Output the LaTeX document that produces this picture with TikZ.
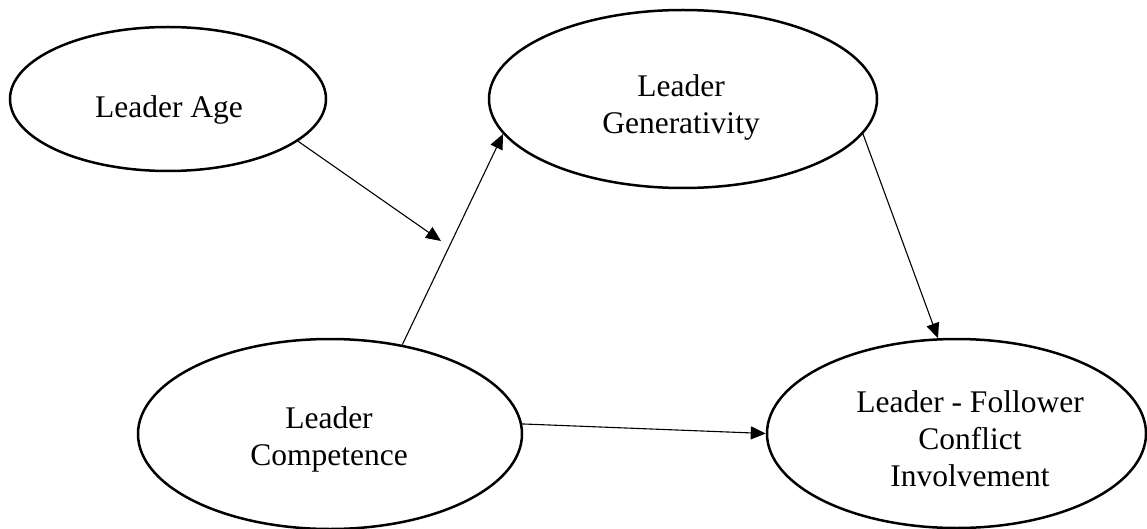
\documentclass[tikz,border=0pt]{standalone}
\usepackage{fontspec}
\setmainfont{Liberation Serif}
\usetikzlibrary{shapes.geometric,arrows.meta}
\begin{document}
\begin{tikzpicture}[x=1pt,y=-1pt,
  ell/.style={draw=black,line width=2.5pt,ellipse,inner sep=0pt},
  txt/.style={align=center,inner sep=0pt,font=\fontsize{31.5}{37}\selectfont},
  conn/.style={draw=black,line width=1.1pt,-{Triangle[length=15pt,width=13pt]}}]
\useasboundingbox (0,0) rectangle (1147,529);
% ellipses
\node[ell,minimum width=316pt,minimum height=144pt] (age) at (168,99) {};
\node[ell,minimum width=388pt,minimum height=178pt] (gen) at (683,99) {};
\node[ell,minimum width=384pt,minimum height=190pt] (comp) at (330,434) {};
\node[ell,minimum width=379pt,minimum height=189pt] (conf) at (956.5,433.5) {};
% texts
\node[txt] (agetxt) at (169,110) {Leader Age};
\node[txt] (gentxt) at (681,107) {Leader\\Generativity};
\node[txt] (comptxt) at (329,439) {Leader\\Competence};
\node[txt] (conftxt) at (970,439) {Leader - Follower\\Conflict\\Involvement};
% connectors
\coordinate (mod) at (441,241);
\draw[conn] (age.-18.7) -- (mod);
\draw[conn] (comp.51.8) -- (gen.-169.4);
\draw[conn] (gen.-11.2) -- (conf.101.2);
\draw[conn] (comp.3.2) -- (conf.180);
\end{tikzpicture}
\end{document}
